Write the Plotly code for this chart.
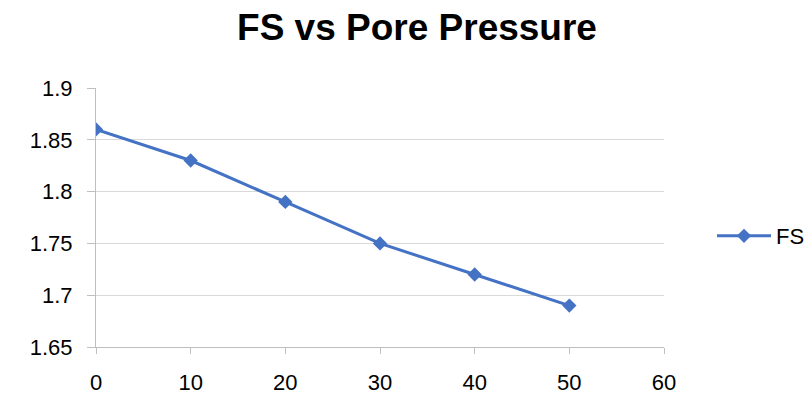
import plotly.graph_objects as go

pore_pressure = [0, 10, 20, 30, 40, 50]
fs_values = [1.86, 1.83, 1.79, 1.75, 1.72, 1.69]
x_ticks = [0, 10, 20, 30, 40, 50, 60]
y_ticks = [1.65, 1.7, 1.75, 1.8, 1.85, 1.9]
y_labels = ["1.65", "1.7", "1.75", "1.8", "1.85", "1.9"]

fig = go.Figure()
fig.add_trace(go.Scatter(
    x=pore_pressure, y=fs_values, mode="lines+markers", name="FS",
    line=dict(color="#4472C4", width=3),
    marker=dict(symbol="diamond", size=11, color="#4472C4"),
))

font = "Liberation Sans, Arial, sans-serif"
fig.update_layout(
    width=811, height=397,
    margin=dict(l=96, r=147, t=88, b=50, autoexpand=False),
    paper_bgcolor="white", plot_bgcolor="white",
    title=dict(text="<b>FS vs Pore Pressure</b>", x=417/811, xanchor="center",
               y=1 - 27/397, yanchor="middle",
               font=dict(family=font, size=37, color="black")),
    font=dict(family=font, size=22, color="black"),
    legend=dict(xref="container", x=712/811, xanchor="left",
                yref="container", y=1 - 236/397, yanchor="middle",
                font=dict(size=22), itemwidth=54, bgcolor="rgba(0,0,0,0)"),
    showlegend=True,
)
fig.update_xaxes(range=[0, 60], tickvals=x_ticks, showgrid=False, zeroline=False,
                 showline=True, linecolor="#BFBFBF", linewidth=1,
                 ticks="outside", ticklen=6, tickcolor="#BFBFBF", automargin=False,
                 ticklabelstandoff=10, tickfont=dict(size=22))
fig.update_yaxes(range=[1.65, 1.9], tickvals=y_ticks, ticktext=y_labels,
                 showgrid=True, gridcolor="#D9D9D9", gridwidth=1, zeroline=False,
                 showline=True, linecolor="#BFBFBF", linewidth=1,
                 ticks="outside", ticklen=8, tickcolor="#BFBFBF", automargin=False,
                 ticklabelstandoff=10, tickfont=dict(size=22))
fig.write_html("out.html")
